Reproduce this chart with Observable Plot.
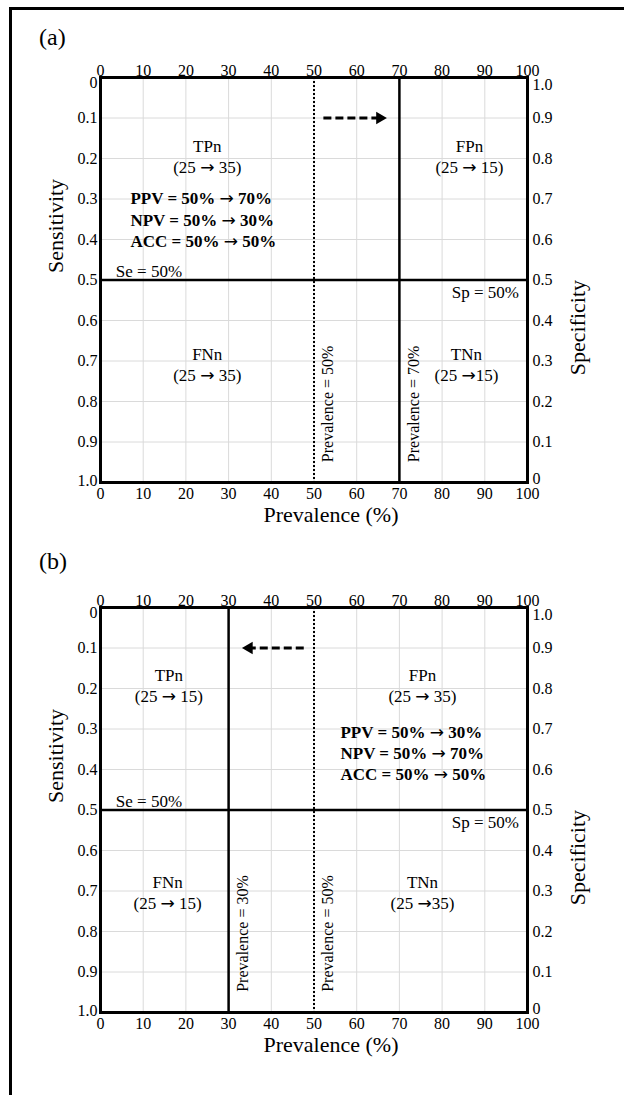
<!DOCTYPE html>
<html><head><meta charset="utf-8">
<script src="https://cdn.jsdelivr.net/npm/d3@7"></script>
<script src="https://cdn.jsdelivr.net/npm/@observablehq/plot@0.6"></script>
<style>
body{margin:0;background:#fff;font-family:"Liberation Serif","Times New Roman",serif;color:#000;}
#page{position:relative;width:624px;height:1095px;overflow:hidden;background:#fff;}
#border{position:absolute;left:9px;top:7px;width:700px;height:1200px;border-left:3px solid #000;border-top:3px solid #000;}
.tag{position:absolute;font-size:24px;line-height:1;}
.panel{position:absolute;left:0;}
</style></head><body>
<div id="page"><div id="border"></div>
<div class="panel" id="pa" style="top:0px"></div>
<div class="panel" id="pb" style="top:545px"></div>
<div class="tag" style="left:39px;top:25px">(a)</div>
<div class="tag" style="left:39px;top:549px">(b)</div>
</div>
<script>
// ---- data ----
const prevalenceTicks = [0,10,20,30,40,50,60,70,80,90,100];
const sensitivityTicks = [0,0.1,0.2,0.3,0.4,0.5,0.6,0.7,0.8,0.9,1.0];
const xLabel = "Prevalence (%)";
const yLabelLeft = "Sensitivity";
const yLabelRight = "Specificity";
const sensitivityCut = 0.5;

// panel (a)
const aOldPrev = 50, aNewPrev = 70;
const aArrow = [{x1:52.2, x2:65.4, y:0.1}];
const aCells = [
  {x:25, y:0.17, t:"TPn"}, {x:25, y:0.222, t:"(25 \u2192 35)"},
  {x:86.4, y:0.17, t:"FPn"}, {x:86.4, y:0.222, t:"(25 \u2192 15)"},
  {x:25, y:0.684, t:"FNn"}, {x:25, y:0.736, t:"(25 \u2192 35)"},
  {x:85.7, y:0.684, t:"TNn"}, {x:85.7, y:0.736, t:"(25 \u219215)"}
];
const aMetrics = [
  {x:7, y:0.30, t:"PPV = 50% \u2192 70%"},
  {x:7, y:0.352, t:"NPV = 50% \u2192 30%"},
  {x:7, y:0.404, t:"ACC = 50% \u2192 50%"}
];
const aPrevLabels = [{x:50, y:0.806, t:"Prevalence = 50%"}, {x:70, y:0.806, t:"Prevalence = 70%"}];

// panel (b)
const bOldPrev = 50, bNewPrev = 30;
const bArrow = [{x1:47.6, x2:34.8, y:0.1}];
const bCells = [
  {x:16, y:0.168, t:"TPn"}, {x:16, y:0.22, t:"(25 \u2192 15)"},
  {x:75.4, y:0.168, t:"FPn"}, {x:75.4, y:0.22, t:"(25 \u2192 35)"},
  {x:15.7, y:0.68, t:"FNn"}, {x:15.7, y:0.732, t:"(25 \u2192 15)"},
  {x:75.4, y:0.68, t:"TNn"}, {x:75.4, y:0.732, t:"(25 \u219235)"}
];
const bMetrics = [
  {x:56.2, y:0.309, t:"PPV = 50% \u2192 30%"},
  {x:56.2, y:0.36, t:"NPV = 50% \u2192 70%"},
  {x:56.2, y:0.412, t:"ACC = 50% \u2192 50%"}
];
const bPrevLabels = [{x:30, y:0.805, t:"Prevalence = 30%"}, {x:50, y:0.805, t:"Prevalence = 50%"}];

const seLabel = "Se = 50%", spLabel = "Sp = 50%";
const sePos = {x:3.6, y:0.478}, spPos = {x:98, y:0.53};

// ---- drawing ----
const FONT = "Liberation Serif, Times New Roman, serif";
const fmt = d => Math.abs(d) < 1e-9 ? "0" : d.toFixed(1);
const innerTicks = sensitivityTicks.slice(1, -1);

function panel({height, mt, mb, oldPrev, newPrev, arrow, dir, cells, metrics, prevLabels}) {
  const axisY = (ticks, anchor, f, dy, pad) =>
    Plot.axisY(ticks, {anchor, tickSize: 0, tickPadding: pad, tickFormat: f, label: null, fontSize: 16, dy});
  return Plot.plot({
    width: 624, height, marginLeft: 100, marginRight: 97, marginTop: mt, marginBottom: mb,
    style: {fontFamily: FONT, fontSize: "16px", color: "#000", background: "transparent", overflow: "visible"},
    x: {domain: [0, 100]},
    y: {domain: [0, 1], reverse: true},
    marks: [
      Plot.gridX(prevalenceTicks, {stroke: "#dadada", strokeOpacity: 1}),
      Plot.gridY(sensitivityTicks, {stroke: "#dadada", strokeOpacity: 1}),
      Plot.axisX(prevalenceTicks, {anchor: "top", tickSize: 0, tickPadding: 2, label: null, fontSize: 16}),
      Plot.axisX(prevalenceTicks, {anchor: "bottom", tickSize: 0, tickPadding: 5, label: null, fontSize: 16}),
      axisY(innerTicks, "left", fmt, 0, 3),
      axisY([0], "left", fmt, 5, 3),
      axisY([1], "left", fmt, -2, 3),
      axisY(innerTicks, "right", d => fmt(1 - d), 0, 5),
      axisY([0], "right", d => fmt(1 - d), 7, 5),
      axisY([1], "right", d => fmt(1 - d), -4, 5),
      Plot.ruleY([sensitivityCut], {strokeWidth: 2.5}),
      Plot.ruleX([newPrev], {strokeWidth: 2.5}),
      Plot.ruleX([oldPrev], {strokeWidth: 2, strokeDasharray: "2,2"}),
      Plot.link(arrow, {x1: "x1", x2: "x2", y1: "y", y2: "y", strokeWidth: 3, strokeDasharray: "8,4"}),
      Plot.dot(arrow, {x: "x2", y: "y", symbol: "triangle", r: 4.6, fill: "#000", stroke: null, rotate: dir}),
      Plot.text(cells, {x: "x", y: "y", text: "t", fontSize: 17}),
      Plot.text(metrics, {x: "x", y: "y", text: "t", fontSize: 17, fontWeight: "bold", textAnchor: "start"}),
      Plot.text([seLabel], {x: sePos.x, y: sePos.y, fontSize: 17, textAnchor: "start"}),
      Plot.text([spLabel], {x: spPos.x, y: spPos.y, fontSize: 17, textAnchor: "end"}),
      Plot.text(prevLabels, {x: "x", y: "y", text: "t", fontSize: 16, rotate: -90, dx: 14}),
      Plot.text([yLabelLeft], {frameAnchor: "left", dx: -45, dy: -7, rotate: -90, fontSize: 22}),
      Plot.text([yLabelRight], {frameAnchor: "right", dx: 50, rotate: -90, fontSize: 22}),
      Plot.text([xLabel], {frameAnchor: "bottom", dx: 17, dy: 39, fontSize: 22}),
      Plot.frame({strokeWidth: 3})
    ]
  });
}

// render the arrow glyph with a font whose arrow is a full-width arrow
function fixArrows(svg) {
  const ns = "http://www.w3.org/2000/svg";
  svg.querySelectorAll("text").forEach(t => {
    if (t.childElementCount === 0 && t.textContent.includes("\u2192")) {
      const parts = t.textContent.split("\u2192");
      t.textContent = "";
      parts.forEach((p, i) => {
        if (i > 0) {
          const a = document.createElementNS(ns, "tspan");
          a.setAttribute("font-family", "DejaVu Sans");
          a.setAttribute("font-weight", "normal");
          a.textContent = "\u2192";
          t.appendChild(a);
        }
        if (p) t.appendChild(document.createTextNode(p));
      });
    }
  });
  return svg;
}

document.getElementById("pa").appendChild(fixArrows(panel({
  height: 545, mt: 77, mb: 63, oldPrev: aOldPrev, newPrev: aNewPrev,
  arrow: aArrow, dir: 90, cells: aCells, metrics: aMetrics, prevLabels: aPrevLabels
})));
document.getElementById("pb").appendChild(fixArrows(panel({
  height: 550, mt: 62, mb: 83, oldPrev: bOldPrev, newPrev: bNewPrev,
  arrow: bArrow, dir: -90, cells: bCells, metrics: bMetrics, prevLabels: bPrevLabels
})));
</script>
</body></html>
